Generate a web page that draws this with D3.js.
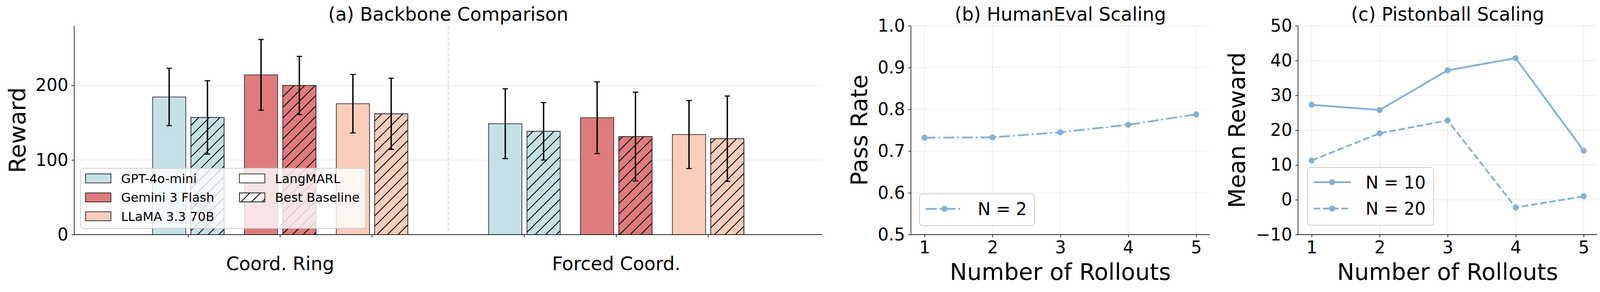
<!DOCTYPE html>
<html>
<head>
<meta charset="utf-8">
<script src="https://cdn.jsdelivr.net/npm/d3@7/dist/d3.min.js"></script>
<style>
  html, body { margin: 0; padding: 0; background: #ffffff; }
  svg { display: block; font-family: "DejaVu Sans", sans-serif; }
</style>
</head>
<body>
<svg id="chart" width="4107" height="748"></svg>
<script>
// ---------- DATA ----------
const groups = ["Coord. Ring", "Forced Coord."];
const models = ["GPT-4o-mini", "Gemini 3 Flash", "LLaMA 3.3 70B"];
const methods = ["LangMARL", "Best Baseline"];

const ringLangMARL      = [184.5, 214.2, 175.5];
const ringLangMARLErr   = [38.5, 47.4, 39.2];
const ringBaseline      = [157.1, 200.0, 162.0];
const ringBaselineErr   = [49.2, 39.0, 47.7];
const forcedLangMARL    = [148.7, 156.7, 134.2];
const forcedLangMARLErr = [46.8, 48.1, 45.6];
const forcedBaseline    = [138.5, 131.5, 128.6];
const forcedBaselineErr = [38.5, 59.5, 57.2];

const rewardTicks = [0, 100, 200];

const rollouts = [1, 2, 3, 4, 5];
const humanEvalN2 = [0.732, 0.733, 0.745, 0.763, 0.788];
const passRateTicks = [0.5, 0.6, 0.7, 0.8, 0.9, 1.0];

const pistonN10 = [27.3, 25.8, 37.2, 40.7, 14.1];
const pistonN20 = [11.3, 19.1, 22.8, -2.2, 1.0];
const meanRewardTicks = [-10, 0, 10, 20, 30, 40, 50];

const modelColors = ["#c4e1e8", "#df7b7c", "#fbcdbb"];
const lineColor = "#80b1d7";

// ---------- SETUP ----------
const svg = d3.select("#chart");
const FONT = "DejaVu Sans";
const TICK_FS = 44, LABEL_FS = 59, TITLE_FS = 47.5;
const gridColor = "#e9e9e9";
const spineColor = "#222";

const defs = svg.append("defs");
const hp = defs.append("pattern").attr("id", "hatch")
  .attr("patternUnits", "userSpaceOnUse").attr("width", 27).attr("height", 27);
hp.append("path")
  .attr("d", "M-6.75,6.75 L6.75,-6.75 M0,27 L27,0 M20.25,33.75 L33.75,20.25")
  .attr("stroke", "#000").attr("stroke-width", 2.2);

const plotTop = 66, plotBottom = 601;

function minusFmt(v) { return v < 0 ? "\u2212" + Math.abs(v) : String(v); }

// ---------- PANEL (a) ----------
(function () {
  const x0 = 190, x1 = 2105;
  const gx = d3.scaleLinear().domain([-0.6128, 1.6128]).range([x0, x1]);
  const y = d3.scaleLinear().domain([0, 280]).range([plotBottom, plotTop]);
  const g = svg.append("g");
  const modelOffset = 0.2733, barHalfGap = 0.0570, barW = 0.0988;

  g.selectAll(".gy").data(rewardTicks.filter(d => d > 0)).join("line")
    .attr("x1", x0).attr("x2", x1).attr("y1", d => y(d)).attr("y2", d => y(d))
    .attr("stroke", gridColor).attr("stroke-width", 2);

  g.append("line").attr("x1", gx(0.5)).attr("x2", gx(0.5)).attr("y1", plotTop).attr("y2", plotBottom)
    .attr("stroke", "#c8c8c8").attr("stroke-width", 1.6).attr("stroke-dasharray", "9,5");

  const means = [[ringLangMARL, ringBaseline], [forcedLangMARL, forcedBaseline]];
  const errs = [[ringLangMARLErr, ringBaselineErr], [forcedLangMARLErr, forcedBaselineErr]];
  const bars = [];
  groups.forEach((grp, gi) => {
    models.forEach((m, mi) => {
      methods.forEach((meth, ki) => {
        const center = gi + (mi - 1) * modelOffset + (ki === 0 ? -barHalfGap : barHalfGap);
        bars.push({ gi, mi, ki, center, v: means[gi][ki][mi], e: errs[gi][ki][mi] });
      });
    });
  });

  g.selectAll(".bar").data(bars).join("rect")
    .attr("x", d => gx(d.center - barW / 2)).attr("width", d => gx(barW) - gx(0))
    .attr("y", d => y(d.v)).attr("height", d => y(0) - y(d.v))
    .attr("fill", d => modelColors[d.mi]).attr("stroke", "#333").attr("stroke-width", 1.8);
  g.selectAll(".hatch").data(bars.filter(d => d.ki === 1)).join("rect")
    .attr("x", d => gx(d.center - barW / 2)).attr("width", d => gx(barW) - gx(0))
    .attr("y", d => y(d.v)).attr("height", d => y(0) - y(d.v))
    .attr("fill", "url(#hatch)").attr("stroke", "#333").attr("stroke-width", 1.8);

  const eb = g.selectAll(".eb").data(bars).join("g");
  eb.append("line").attr("x1", d => gx(d.center)).attr("x2", d => gx(d.center))
    .attr("y1", d => y(d.v - d.e)).attr("y2", d => y(d.v + d.e))
    .attr("stroke", "#000").attr("stroke-width", 3.5);
  [1, -1].forEach(s => {
    eb.append("line").attr("x1", d => gx(d.center) - 7).attr("x2", d => gx(d.center) + 7)
      .attr("y1", d => y(d.v + s * d.e)).attr("y2", d => y(d.v + s * d.e))
      .attr("stroke", "#000").attr("stroke-width", 2.8);
  });

  const ya = d3.axisLeft(y).tickValues(rewardTicks).tickSize(7).tickPadding(8).tickFormat(d3.format("d"));
  const yg = g.append("g").attr("transform", `translate(${x0},0)`).call(ya);
  yg.select(".domain").remove();
  yg.selectAll("text").attr("font-size", TICK_FS).attr("font-family", FONT).attr("fill", "#000");
  yg.selectAll("line").attr("stroke", spineColor).attr("stroke-width", 1.8);

  const tickPos = [];
  groups.forEach((grp, gi) => models.forEach((m, mi) => tickPos.push(gi + (mi - 1) * modelOffset)));
  g.selectAll(".xt").data(tickPos).join("line")
    .attr("x1", d => gx(d)).attr("x2", d => gx(d)).attr("y1", plotBottom).attr("y2", plotBottom + 7)
    .attr("stroke", spineColor).attr("stroke-width", 1.8);

  g.append("line").attr("x1", x0).attr("x2", x0).attr("y1", plotTop).attr("y2", plotBottom)
    .attr("stroke", spineColor).attr("stroke-width", 1.8);
  g.append("line").attr("x1", x0).attr("x2", x1).attr("y1", plotBottom).attr("y2", plotBottom)
    .attr("stroke", spineColor).attr("stroke-width", 1.8);

  g.selectAll(".gl").data(groups).join("text")
    .attr("x", (d, i) => gx(i)).attr("y", 692).attr("text-anchor", "middle")
    .attr("font-size", TITLE_FS).attr("font-family", FONT).text(d => d);

  g.append("text").attr("transform", `translate(65,${(plotTop + plotBottom) / 2}) rotate(-90)`)
    .attr("text-anchor", "middle").attr("font-size", LABEL_FS).attr("font-family", FONT).text("Reward");
  g.append("text").attr("x", (x0 + x1) / 2).attr("y", 52.5).attr("text-anchor", "middle")
    .attr("font-size", TITLE_FS).attr("font-family", FONT).text("(a) Backbone Comparison");

  const lg = g.append("g");
  lg.append("rect").attr("x", 206).attr("y", 431).attr("width", 730).attr("height", 154)
    .attr("rx", 7).attr("fill", "rgba(255,255,255,0.8)").attr("stroke", "#cccccc").attr("stroke-width", 1.8);
  const rowsY = [457, 505.7, 554];
  const entries = [
    { x: 219, y: rowsY[0], fill: modelColors[0], hatch: false, label: models[0] },
    { x: 219, y: rowsY[1], fill: modelColors[1], hatch: false, label: models[1] },
    { x: 219, y: rowsY[2], fill: modelColors[2], hatch: false, label: models[2] },
    { x: 613, y: rowsY[0], fill: "#ffffff", hatch: false, label: methods[0] },
    { x: 613, y: rowsY[1], fill: "#ffffff", hatch: true, label: methods[1] }
  ];
  entries.forEach(e => {
    lg.append("rect").attr("x", e.x).attr("y", e.y - 11.5).attr("width", 65).attr("height", 23)
      .attr("fill", e.fill).attr("stroke", "#222").attr("stroke-width", 1.8);
    if (e.hatch) lg.append("rect").attr("x", e.x).attr("y", e.y - 11.5).attr("width", 65).attr("height", 23)
      .attr("fill", "url(#hatch)").attr("stroke", "#222").attr("stroke-width", 1.8);
    lg.append("text").attr("x", e.x + 91).attr("y", e.y + 11.5)
      .attr("font-size", 32).attr("font-family", FONT).text(e.label);
  });
})();

// ---------- line panels ----------
function linePanel(opts) {
  const { x0, x1, yDomain, ticks, fmt, series, title, ylabel, ylabelX, legend } = opts;
  const x = d3.scaleLinear().domain([0.8, 5.2]).range([x0, x1]);
  const y = d3.scaleLinear().domain(yDomain).range([plotBottom, plotTop]);
  const g = svg.append("g");

  g.selectAll(".gx").data(rollouts).join("line")
    .attr("x1", d => x(d)).attr("x2", d => x(d)).attr("y1", plotTop).attr("y2", plotBottom)
    .attr("stroke", gridColor).attr("stroke-width", 1.6);
  g.selectAll(".gy").data(ticks).join("line")
    .attr("x1", x0).attr("x2", x1).attr("y1", d => y(d)).attr("y2", d => y(d))
    .attr("stroke", gridColor).attr("stroke-width", 1.6);

  series.forEach(s => {
    const line = d3.line().x((d, i) => x(rollouts[i])).y(d => y(d));
    g.append("path").datum(s.values).attr("d", line).attr("fill", "none")
      .attr("stroke", lineColor).attr("stroke-width", 4.5).attr("stroke-dasharray", s.dash);
    g.selectAll(null).data(s.values).join("circle")
      .attr("cx", (d, i) => x(rollouts[i])).attr("cy", d => y(d)).attr("r", 7.7).attr("fill", lineColor);
  });

  const ya = d3.axisLeft(y).tickValues(ticks).tickSize(7).tickPadding(8).tickFormat(fmt);
  const yg = g.append("g").attr("transform", `translate(${x0},0)`).call(ya);
  yg.select(".domain").remove();
  yg.selectAll("text").attr("font-size", TICK_FS).attr("font-family", FONT).attr("fill", "#000");
  yg.selectAll("line").attr("stroke", spineColor).attr("stroke-width", 1.8);

  const xa = d3.axisBottom(x).tickValues(rollouts).tickSize(7).tickPadding(10).tickFormat(d3.format("d"));
  const xg = g.append("g").attr("transform", `translate(0,${plotBottom})`).call(xa);
  xg.select(".domain").remove();
  xg.selectAll("text").attr("font-size", TICK_FS).attr("font-family", FONT).attr("fill", "#000");
  xg.selectAll("line").attr("stroke", spineColor).attr("stroke-width", 1.8);

  g.append("line").attr("x1", x0).attr("x2", x0).attr("y1", plotTop).attr("y2", plotBottom)
    .attr("stroke", spineColor).attr("stroke-width", 1.8);
  g.append("line").attr("x1", x0).attr("x2", x1).attr("y1", plotBottom).attr("y2", plotBottom)
    .attr("stroke", spineColor).attr("stroke-width", 1.8);

  g.append("text").attr("x", (x0 + x1) / 2).attr("y", 717).attr("text-anchor", "middle")
    .attr("font-size", LABEL_FS).attr("font-family", FONT).text("Number of Rollouts");
  g.append("text").attr("transform", `translate(${ylabelX},${(plotTop + plotBottom) / 2}) rotate(-90)`)
    .attr("text-anchor", "middle").attr("font-size", LABEL_FS).attr("font-family", FONT).text(ylabel);
  g.append("text").attr("x", (x0 + x1) / 2).attr("y", 52.5).attr("text-anchor", "middle")
    .attr("font-size", TITLE_FS).attr("font-family", FONT).text(title);

  const lg = g.append("g");
  lg.append("rect").attr("x", legend.x).attr("y", legend.y).attr("width", legend.w).attr("height", legend.h)
    .attr("rx", 7).attr("fill", "rgba(255,255,255,0.8)").attr("stroke", "#cccccc").attr("stroke-width", 1.8);
  series.forEach((s, i) => {
    const cy = legend.rows[i];
    const lx = legend.x + 16;
    lg.append("line").attr("x1", lx).attr("x2", lx + 95).attr("y1", cy).attr("y2", cy)
      .attr("stroke", lineColor).attr("stroke-width", 4.5).attr("stroke-dasharray", s.dash);
    lg.append("circle").attr("cx", lx + 47.5).attr("cy", cy).attr("r", 7.7).attr("fill", lineColor);
    lg.append("text").attr("x", lx + 133).attr("y", cy + 16)
      .attr("font-size", 44).attr("font-family", FONT).text(s.label);
  });
}

linePanel({
  x0: 2332, x1: 3097, yDomain: [0.5, 1.0], ticks: passRateTicks, fmt: d3.format(".1f"),
  series: [{ values: humanEvalN2, dash: "28,7.7,4.4,7.7", label: "N = 2" }],
  title: "(b) HumanEval Scaling", ylabel: "Pass Rate", ylabelX: 2220,
  legend: { x: 2354, y: 497, w: 294, h: 81, rows: [535] }
});

linePanel({
  x0: 3323, x1: 4089, yDomain: [-10, 50], ticks: meanRewardTicks, fmt: minusFmt,
  series: [
    { values: pistonN10, dash: null, label: "N = 10" },
    { values: pistonN20, dash: "16.5,7.2", label: "N = 20" }
  ],
  title: "(c) Pistonball Scaling", ylabel: "Mean Reward", ylabelX: 3187,
  legend: { x: 3347, y: 429, w: 323, h: 148, rows: [466.7, 534.3] }
});
</script>
</body>
</html>
